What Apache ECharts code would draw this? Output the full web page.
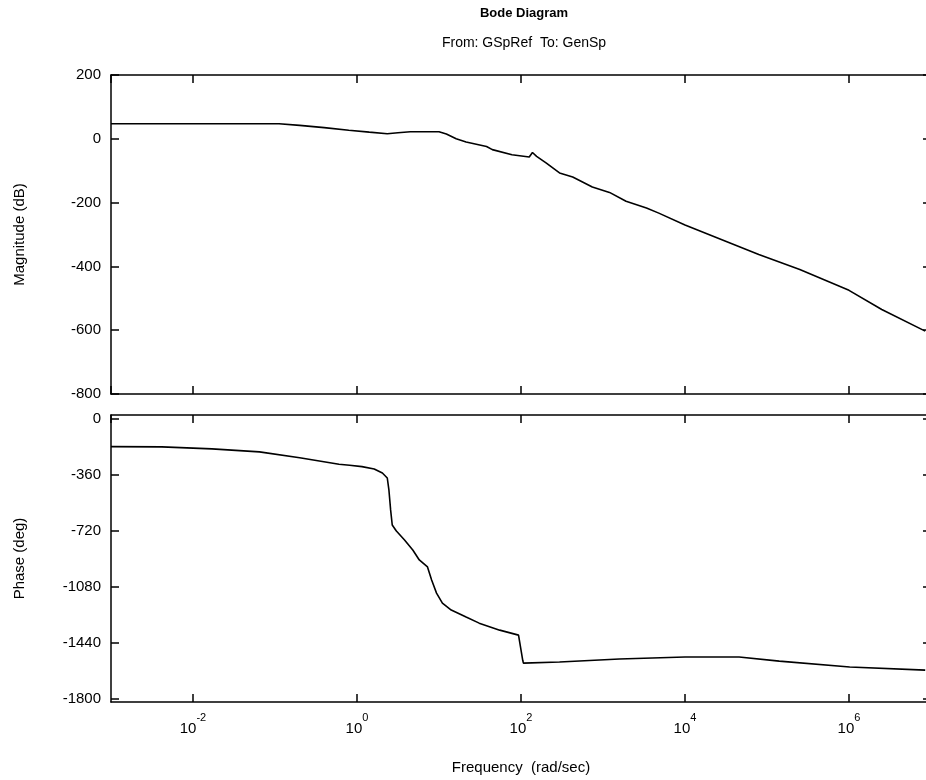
<!DOCTYPE html>
<html>
<head>
<meta charset="utf-8">
<script src="https://cdn.jsdelivr.net/npm/echarts@6/dist/echarts.min.js"></script>
<style>
  html, body { margin: 0; padding: 0; background: #fff; overflow: hidden; }
  #chart { width: 926px; height: 780px; }
</style>
</head>
<body>
<div id="chart"></div>
<script>
// ---- Data ----
const magFreq = [1e-3, 1e-2, 0.063, 0.112, 0.2, 0.398, 0.794, 1.41, 2.34, 3.16, 4.47, 10, 12.3, 16.2, 21.4, 38, 44.7, 77.6, 126, 138, 155, 204, 295, 427, 741, 1200, 1910, 3390, 4790, 1e4, 7.94e4, 2.51e5, 1e6, 2.51e6, 8.5e6];
const magDb   = [47, 47, 47, 47, 42, 35, 27, 21, 16, 19, 22, 22, 15, 0, -10, -24, -34, -50, -57, -43, -55, -76, -107, -120, -151, -168, -196, -217, -233, -270, -363, -410, -475, -535, -603];

const phaseFreq = [1e-3, 4.17e-3, 0.017, 0.0646, 0.2, 0.603, 0.813, 1.15, 1.62, 2.04, 2.34, 2.45, 2.57, 2.69, 3.02, 3.8, 4.79, 5.75, 7.24, 8.13, 9.33, 11, 14.1, 21.4, 30.9, 55, 93.3, 97.7, 105, 107, 295, 1585, 1e4, 4.57e4, 1.41e5, 1.02e6, 8.5e6];
const phaseDeg  = [-176, -178, -191, -210, -248, -290, -296, -305, -320, -346, -378, -455, -583, -680, -719, -777, -841, -905, -950, -1034, -1118, -1182, -1227, -1272, -1311, -1356, -1388, -1395, -1550, -1568, -1561, -1542, -1529, -1529, -1555, -1593, -1613];

const magTicks   = [200, 0, -200, -400, -600, -800];
const phaseTicks = [0, -360, -720, -1080, -1440, -1800];

const titleText = 'Bode Diagram';
const subtitleText = 'From: GSpRef  To: GenSp';
const xName = 'Frequency  (rad/sec)';
const magName = 'Magnitude (dB)';
const phaseName = 'Phase (deg)';

// ---- Chart ----
const FONT = "'Liberation Sans', Arial, Helvetica, sans-serif";
const chart = echarts.init(document.getElementById('chart'), null, { renderer: 'canvas' });

const lineStyle = { color: '#000', width: 1.5 };
const tickStyle = { show: true, inside: true, length: 8, lineStyle: { color: '#000', width: 1.5 } };

function xAx(grid, pos, labels) {
  return {
    type: 'log', logBase: 100, min: 1e-3, max: 1e7, gridIndex: grid, position: pos,
    axisLine: { show: true, onZero: false, lineStyle: lineStyle },
    axisTick: tickStyle,
    splitLine: { show: false },
    minorTick: { show: false },
    axisLabel: labels ? {
      show: true, margin: 10, showMinLabel: false, showMaxLabel: false,
      formatter: function (v) {
        const e = Math.round(Math.log10(v));
        return '{b|10}{s|' + e + '}';
      },
      rich: {
        b: { fontFamily: FONT, fontSize: 15, color: '#000', lineHeight: 24, verticalAlign: 'bottom' },
        s: { fontFamily: FONT, fontSize: 11, color: '#000', lineHeight: 24, verticalAlign: 'top' }
      }
    } : { show: false },
    name: labels ? xName : '',
    nameLocation: 'middle', nameGap: 58,
    nameTextStyle: { fontFamily: FONT, fontSize: 15, color: '#000' }
  };
}

function yAx(grid, pos, labels, cfg, name) {
  const base = {
    type: 'value', gridIndex: grid, position: pos,
    axisLine: { show: true, onZero: false, lineStyle: lineStyle },
    axisTick: Object.assign({}, tickStyle),
    splitLine: { show: false },
    axisLabel: labels ? { show: true, margin: 10, fontFamily: FONT, fontSize: 15, color: '#000',
      formatter: function (v) { return String(v); } } : { show: false },
    name: name || '', nameLocation: 'middle', nameGap: 84, nameRotate: 90,
    nameTextStyle: { fontFamily: FONT, fontSize: 15, color: '#000' }
  };
  return Object.assign(base, cfg(base));
}

const magCfg = function () { return { min: magTicks[magTicks.length - 1], max: magTicks[0], interval: 200 }; };
const phaseCfg = function (b) {
  return {
    min: -1818, max: 27,
    axisTick: Object.assign({}, tickStyle, { customValues: phaseTicks }),
    axisLabel: Object.assign({}, b.axisLabel, { customValues: phaseTicks })
  };
};

const option = {
  backgroundColor: '#fff',
  animation: false,
  title: [
    { text: titleText, left: 519, top: 2, textAlign: 'center',
      textStyle: { fontFamily: FONT, fontSize: 13, fontWeight: 'bold', color: '#000' } },
    { text: subtitleText, left: 519, top: 31, textAlign: 'center',
      textStyle: { fontFamily: FONT, fontSize: 14, fontWeight: 'normal', color: '#000' } }
  ],
  grid: [
    { left: 111, width: 820, top: 75, height: 319, outerBoundsMode: 'none', containLabel: false },
    { left: 111, width: 820, top: 415, height: 287, outerBoundsMode: 'none', containLabel: false }
  ],
  xAxis: [
    xAx(0, 'bottom', false),
    xAx(0, 'top', false),
    xAx(1, 'bottom', true),
    xAx(1, 'top', false)
  ],
  yAxis: [
    yAx(0, 'left', true, magCfg, magName),
    yAx(0, 'right', false, magCfg),
    yAx(1, 'left', true, phaseCfg, phaseName),
    yAx(1, 'right', false, phaseCfg)
  ],
  series: [
    { type: 'line', xAxisIndex: 0, yAxisIndex: 0, showSymbol: false, symbol: 'none',
      lineStyle: { color: '#000', width: 1.6 },
      data: magFreq.map(function (f, i) { return [f, magDb[i]]; }) },
    { type: 'line', xAxisIndex: 2, yAxisIndex: 2, showSymbol: false, symbol: 'none',
      lineStyle: { color: '#000', width: 1.6 },
      data: phaseFreq.map(function (f, i) { return [f, phaseDeg[i]]; }) }
  ]
};
chart.setOption(option);
</script>
</body>
</html>
